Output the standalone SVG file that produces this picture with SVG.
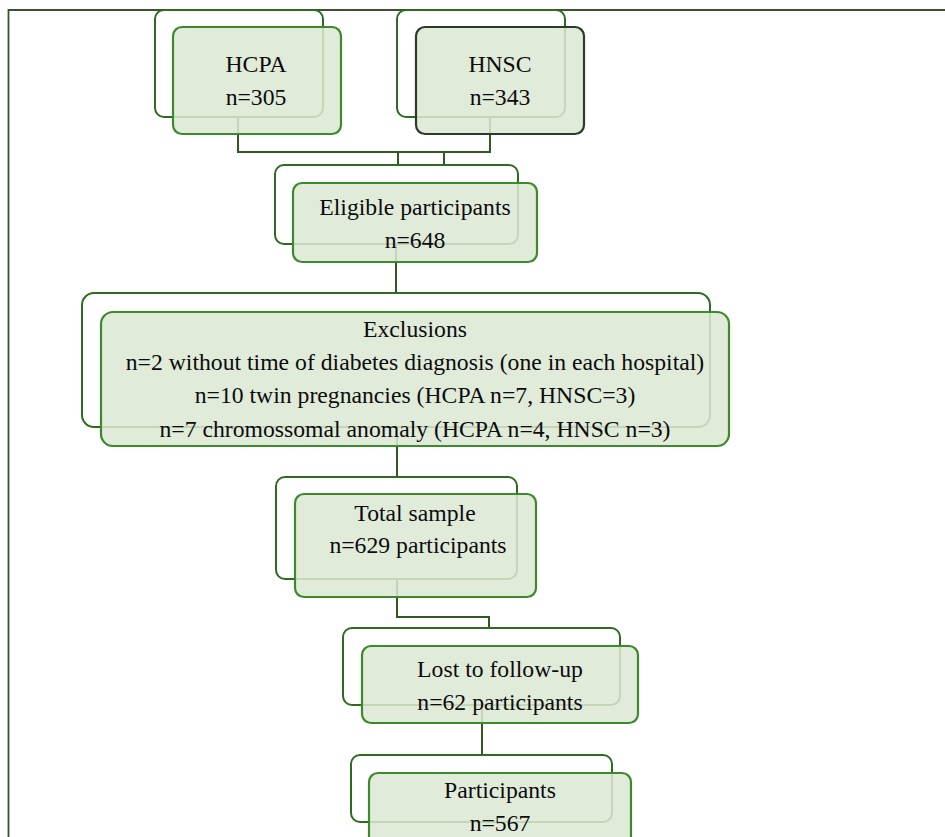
<svg xmlns="http://www.w3.org/2000/svg" width="945" height="837" viewBox="0 0 945 837">
<style>
.back{fill:#ffffff;stroke:#2e6a20;stroke-width:2}
.front{fill:#dce8d4;fill-opacity:0.86;stroke:#3c8a2b;stroke-width:2.2}
.dark{stroke:#2c3a2a}
.conn{fill:none;stroke:#2f5a22;stroke-width:2}
.t{font-family:"Liberation Serif","Times New Roman",serif;font-size:23.7px;fill:#0c0c0c;text-anchor:middle}
</style>
<rect width="945" height="837" fill="#ffffff"/>
<path d="M8.5 837 V10 H945" fill="none" stroke="#3a5230" stroke-width="1.8"/>
<g id="connectors">
<path class="conn" d="M238 117 V152 H490 V117" stroke="#263d22"/>
<path class="conn" d="M398 152 V165 M444 152 V165"/>
<path class="conn" d="M396 244 V293"/>
<path class="conn" d="M397 427 V477"/>
<path class="conn" d="M397 579 V617 H489 V628"/>
<path class="conn" d="M482 705 V755"/>
</g>
<g id="hcpa">
<rect class="back" x="155" y="10" width="168" height="107" rx="9"/>
<rect class="front" x="173" y="27" width="168" height="107" rx="9"/>
<text class="t" x="256" y="72">HCPA</text>
<text class="t" x="256" y="105">n=305</text>
</g>
<g id="hnsc">
<rect class="back" x="397" y="10" width="168" height="107" rx="9"/>
<rect class="front dark" x="416" y="27" width="168" height="107" rx="9"/>
<text class="t" x="500" y="72">HNSC</text>
<text class="t" x="500" y="105">n=343</text>
</g>
<g id="eligible">
<rect class="back" x="275" y="165" width="243" height="79" rx="9"/>
<rect class="front" x="293" y="183" width="244" height="79" rx="9"/>
<text class="t" x="415" y="215">Eligible participants</text>
<text class="t" x="415" y="248">n=648</text>
</g>
<g id="exclusions">
<rect class="back" x="82" y="293" width="628" height="134" rx="12"/>
<rect class="front" x="101" y="312" width="628" height="134" rx="12"/>
<text class="t" x="415" y="337">Exclusions</text>
<text class="t" x="415" y="370">n=2 without time of diabetes diagnosis (one in each hospital)</text>
<text class="t" x="415" y="403">n=10 twin pregnancies (HCPA n=7, HNSC=3)</text>
<text class="t" x="415" y="437">n=7 chromossomal anomaly (HCPA n=4, HNSC n=3)</text>
</g>
<g id="total">
<rect class="back" x="276" y="477" width="241" height="102" rx="9"/>
<rect class="front" x="295" y="494" width="241" height="103" rx="9"/>
<text class="t" x="415" y="521">Total sample</text>
<text class="t" x="418" y="553">n=629 participants</text>
</g>
<g id="lost">
<rect class="back" x="343" y="628" width="277" height="77" rx="9"/>
<rect class="front" x="362" y="646" width="276" height="77" rx="9"/>
<text class="t" x="500" y="677">Lost to follow-up</text>
<text class="t" x="500" y="710">n=62 participants</text>
</g>
<g id="participants">
<rect class="back" x="351" y="755" width="261" height="67" rx="9"/>
<rect class="front" x="369" y="773" width="262" height="80" rx="9"/>
<text class="t" x="500" y="798">Participants</text>
<text class="t" x="500" y="831">n=567</text>
</g>
</svg>
